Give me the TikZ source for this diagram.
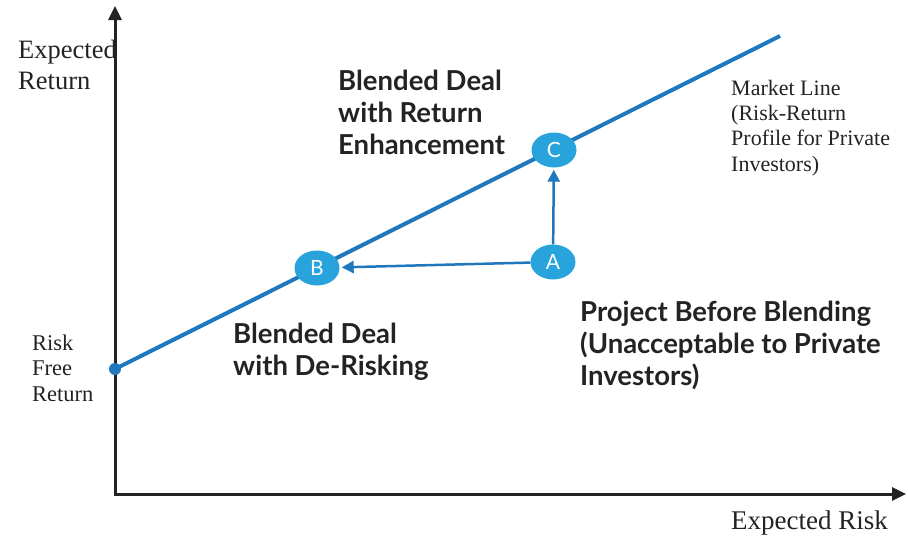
\documentclass[tikz,border=0pt]{standalone}
\usepackage{fontspec}
\setmainfont{Liberation Serif}
\newfontfamily\gillsans{Lato}
\usetikzlibrary{arrows.meta,shapes.geometric}
\definecolor{lineblue}{RGB}{31,119,190}
\definecolor{dotblue}{RGB}{41,163,219}
\definecolor{inkgray}{RGB}{35,35,35}
\tikzset{
  axis/.style={line width=3pt, draw=inkgray, {Triangle[length=14pt,width=13pt]}-{Triangle[length=14pt,width=13pt]}},
  mline/.style={line width=4pt, draw=lineblue},
  flow/.style={line width=2.5pt, draw=lineblue, -{Triangle[length=12pt,width=12pt]}, shorten >=2pt},
  dealpt/.style={ellipse, fill=dotblue, minimum width=45pt, minimum height=35pt, inner sep=0pt,
    text=white, font=\gillsans\fontsize{21}{21}\selectfont},
  seriflbl/.style={anchor=west, align=left, inner sep=0pt, text=inkgray},
  boldlbl/.style={anchor=west, align=left, inner sep=0pt, text=inkgray,
    font=\gillsans\bfseries\fontsize{27.5}{32}\selectfont}
}
\begin{document}
\begin{tikzpicture}[x=1pt,y=-1pt]
    \useasboundingbox (0,0) rectangle (908,538);

    % axes
    \draw[axis] (115,6) -- (115,494) -- (906,494);

    % market line
    \node[circle, fill=lineblue, minimum size=12pt, inner sep=0pt] (rf) at (115,369) {};
    \coordinate (mend) at (780,36);
    \draw[mline] (rf.center) -- (mend);

    \node[dealpt] (B) at (317,268) {B};
    \node[dealpt] (C) at (554,150) {C};
    \node[dealpt] (A) at (553,262) {A};

    \draw[flow] (A) -- (B);
    \draw[flow] (A) -- (C);

    % labels
    \node[seriflbl, font=\fontsize{26.5}{31}\selectfont] (yl) at (18,65) {Expected\\Return};
    \node[seriflbl, font=\fontsize{27}{31}\selectfont] (xl) at (731,523) {Expected Risk};
    \node[seriflbl, font=\fontsize{22.5}{25.3}\selectfont] (rfl) at (32,368) {Risk\\Free\\Return};
    \node[seriflbl, font=\fontsize{22}{25.3}\selectfont] (ml) at (731,128) {Market Line\\(Risk-Return\\Profile for Private\\Investors)};

    \node[boldlbl] (cl) at (338,112) {Blended Deal\\with Return\\Enhancement};
    \node[boldlbl] (bl) at (233,352) {Blended Deal\\with De-Risking};
    \node[boldlbl] (al) at (580,345) {Project Before Blending\\(Unacceptable to Private\\Investors)};
\end{tikzpicture}
\end{document}
